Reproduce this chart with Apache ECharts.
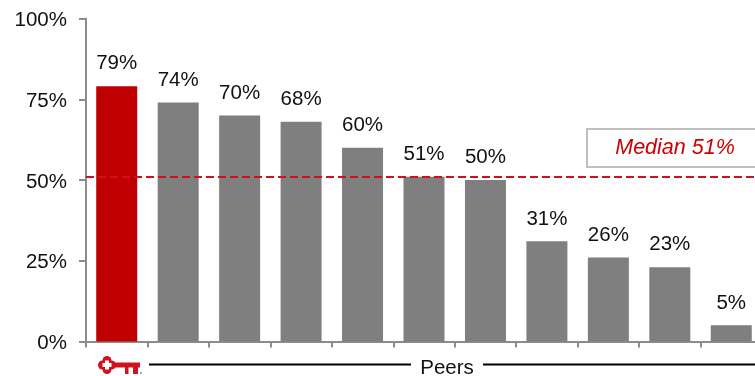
<!DOCTYPE html>
<html>
<head>
<meta charset="utf-8">
<style>html,body{margin:0;padding:0;background:#fff;overflow:hidden}#chart{width:755px;height:376px}</style>
<script src="https://cdn.jsdelivr.net/npm/echarts@6/dist/echarts.min.js"></script>
</head>
<body>
<div id="chart"></div>
<script>
const categories = ['Key', 'P1', 'P2', 'P3', 'P4', 'P5', 'P6', 'P7', 'P8', 'P9', 'P10'];
const shares = [79, 74, 70, 68, 60, 51, 50, 31, 26, 23, 5];
const medianValue = 51;
const medianText = 'Median 51%';
const groupText = 'Peers';
const yTicks = [0, 25, 50, 75, 100];

const FONT = '"Liberation Sans", Arial, sans-serif';
const RED = '#c00000';
const GREY = '#7f7f7f';
const AXIS = '#8c8c8c';
const INK = '#111';
const KEY_RED = '#d0121f';

const chart = echarts.init(document.getElementById('chart'), null, { renderer: 'canvas' });

chart.setOption({
  animation: false,
  backgroundColor: '#fff',
  grid: { left: 86, top: 18.5, width: 676, height: 323, outerBoundsMode: 'none' },
  xAxis: {
    type: 'category',
    data: categories,
    axisLine: { lineStyle: { color: AXIS, width: 2 } },
    axisTick: { show: true, alignWithLabel: false, length: 6, lineStyle: { color: AXIS, width: 2 } },
    axisLabel: { show: false }
  },
  yAxis: {
    type: 'value',
    min: yTicks[0],
    max: yTicks[yTicks.length - 1],
    interval: 25,
    axisLine: { show: true, lineStyle: { color: AXIS, width: 2 } },
    axisTick: { show: true, length: 7, lineStyle: { color: AXIS, width: 2 } },
    splitLine: { show: false },
    axisLabel: {
      formatter: '{t|{value}%}',
      margin: 19,
      rich: { t: { color: INK, fontFamily: FONT, fontSize: 20.5, padding: [4, 0, 0, 0] } }
    }
  },
  series: [{
    type: 'bar',
    data: shares.map((v, i) => ({ value: v, itemStyle: { color: i === 0 ? RED : GREY } })),
    barWidth: 41,
    label: {
      show: true,
      position: 'top',
      distance: 12,
      formatter: '{c}%',
      color: INK,
      fontFamily: FONT,
      fontSize: 20.5
    },
    markLine: {
      silent: true,
      symbol: 'none',
      label: { show: false },
      lineStyle: { color: '#d0101a', type: [8, 4], width: 2 },
      data: [{ yAxis: medianValue }]
    }
  }],
  graphic: [
    // median callout
    { type: 'rect', shape: { x: 587, y: 129, width: 180, height: 38 }, style: { fill: '#fff', stroke: '#bfbfbf', lineWidth: 2 }, z: 10 },
    { type: 'text', x: 675, y: 148, style: { text: medianText, font: 'italic 21.5px ' + FONT, fill: '#cc0000', align: 'center', verticalAlign: 'middle' }, z: 11 },
    // peer group bracket
    { type: 'line', shape: { x1: 149, y1: 364.5, x2: 411, y2: 364.5 }, style: { stroke: '#000', lineWidth: 2 } },
    { type: 'line', shape: { x1: 483, y1: 364.5, x2: 755, y2: 364.5 }, style: { stroke: '#000', lineWidth: 2 } },
    { type: 'text', x: 447, y: 368, style: { text: groupText, font: '20.5px ' + FONT, fill: INK, align: 'center', verticalAlign: 'middle' } },
    // key emblem under the first bar: clover bow with a cross-shaped hole, shaft and two teeth
    { type: 'group', x: 98, y: 356, children: [
      { type: 'circle', shape: { cx: 9, cy: 4.5, r: 4.5 }, style: { fill: KEY_RED } },
      { type: 'circle', shape: { cx: 9, cy: 13.5, r: 4.5 }, style: { fill: KEY_RED } },
      { type: 'circle', shape: { cx: 4.5, cy: 9, r: 4.5 }, style: { fill: KEY_RED } },
      { type: 'circle', shape: { cx: 13.5, cy: 9, r: 4.5 }, style: { fill: KEY_RED } },
      { type: 'rect', shape: { x: 15, y: 6.5, width: 27, height: 5 }, style: { fill: KEY_RED } },
      { type: 'rect', shape: { x: 27, y: 10, width: 3.5, height: 8 }, style: { fill: KEY_RED } },
      { type: 'rect', shape: { x: 35, y: 10, width: 5, height: 8 }, style: { fill: KEY_RED } },
      { type: 'rect', shape: { x: 7, y: 4.5, width: 4, height: 9 }, style: { fill: '#fff' } },
      { type: 'rect', shape: { x: 4.5, y: 7, width: 9, height: 4 }, style: { fill: '#fff' } },
      { type: 'circle', shape: { cx: 43, cy: 17, r: 1 }, style: { fill: '#888' } }
    ] }
  ]
});
</script>
</body>
</html>
